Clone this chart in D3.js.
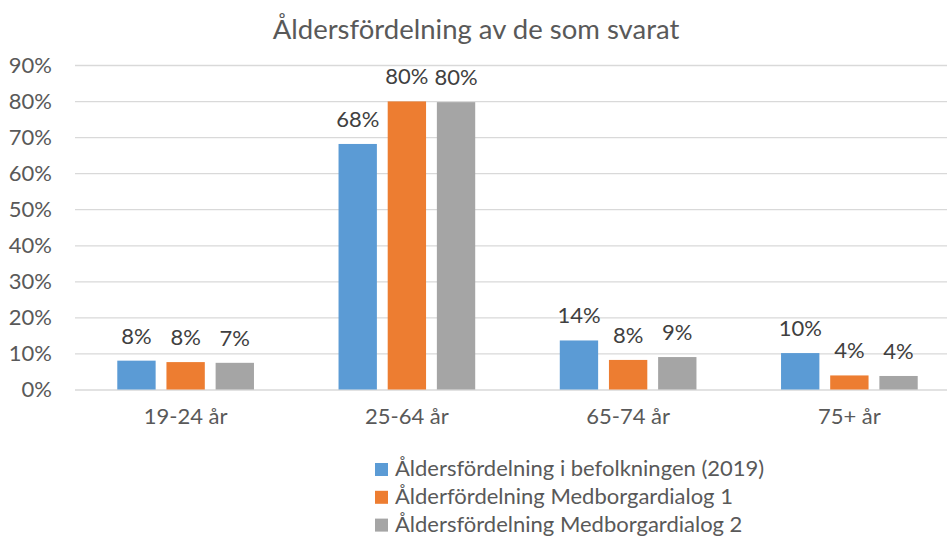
<!DOCTYPE html>
<html>
<head>
<meta charset="utf-8">
<script src="https://cdn.jsdelivr.net/npm/d3@7"></script>
<style>
  body { margin: 0; background: #fff; }
  svg { display: block; font-family: Lato, "Open Sans", sans-serif; }
</style>
</head>
<body>
<div id="chart"></div>
<script>
const categories = ['19-24 år', '25-64 år', '65-74 år', '75+ år'];
const seriesNames = [
  'Åldersfördelning i befolkningen (2019)',
  'Ålderfördelning Medborgardialog 1',
  'Åldersfördelning Medborgardialog 2'
];
const befolkning = [0.080, 0.681, 0.136, 0.101];
const dialog1 = [0.076, 0.799, 0.082, 0.039];
const dialog2 = [0.074, 0.797, 0.090, 0.0375];
const yTicks = [0, 0.1, 0.2, 0.3, 0.4, 0.5, 0.6, 0.7, 0.8, 0.9];
const colors = ['#5B9BD5', '#ED7D31', '#A5A5A5'];

const width = 947;
const height = 537;
const textColor = '#595959';
const fontFam = 'Lato, "Open Sans", sans-serif';

const series = [befolkning, dialog1, dialog2];

const svg = d3.select('#chart')
  .append('svg')
  .attr('width', width)
  .attr('height', height);

// title
svg.append('text')
  .attr('x', 476)
  .attr('y', 39)
  .attr('text-anchor', 'middle')
  .attr('font-size', 27.5)
  .attr('fill', textColor)
  .text('Åldersfördelning av de som svarat');

const x0 = d3.scaleBand()
  .domain(categories)
  .range([75, 960])
  .padding(0);

const x1 = d3.scaleBand()
  .domain(d3.range(series.length))
  .range([0, x0.bandwidth()])
  .paddingInner(0.22)
  .paddingOuter(0.86);

const y = d3.scaleLinear()
  .domain([0, 0.9])
  .range([389.5, 65]);

// gridlines + y labels
const yAxis = d3.axisLeft(y)
  .tickValues(yTicks)
  .tickSize(-(960 - 75))
  .tickPadding(23)
  .tickFormat(d3.format('.0%'));

const gy = svg.append('g')
  .attr('transform', 'translate(75,0)')
  .call(yAxis);
gy.select('.domain').remove();
gy.selectAll('.tick line')
  .attr('stroke', '#D9D9D9')
  .attr('stroke-width', 1.3);
gy.selectAll('.tick text')
  .attr('fill', textColor)
  .attr('font-size', 22)
  .attr('font-family', fontFam);

// bars
const groups = svg.selectAll('g.cat')
  .data(categories)
  .enter()
  .append('g')
  .attr('class', 'cat')
  .attr('transform', d => `translate(${x0(d)},0)`);

groups.selectAll('rect')
  .data((d, i) => series.map((s, j) => ({ s: j, v: s[i] })))
  .enter()
  .append('rect')
  .attr('x', d => x1(d.s))
  .attr('y', d => y(d.v))
  .attr('width', x1.bandwidth())
  .attr('height', d => y(0) - y(d.v))
  .attr('fill', d => colors[d.s]);

groups.selectAll('text.lbl')
  .data((d, i) => series.map((s, j) => ({ s: j, v: s[i] })))
  .enter()
  .append('text')
  .attr('class', 'lbl')
  .attr('x', d => x1(d.s) + x1.bandwidth() / 2)
  .attr('y', d => y(d.v) - 17)
  .attr('text-anchor', 'middle')
  .attr('font-size', 22)
  .attr('fill', '#404040')
  .text(d => d3.format('.0%')(d.v));

// x axis labels
const xAxis = d3.axisBottom(x0).tickSize(0).tickPadding(19);
const gx = svg.append('g')
  .attr('transform', `translate(0,${y(0)})`)
  .call(xAxis);
gx.select('.domain').remove();
gx.selectAll('.tick text')
  .attr('fill', textColor)
  .attr('font-size', 22)
  .attr('font-family', fontFam);

// legend
const legend = svg.append('g')
  .attr('transform', 'translate(375,463)');

const items = legend.selectAll('g')
  .data(seriesNames)
  .enter()
  .append('g')
  .attr('transform', (d, i) => `translate(0,${i * 27.8})`);

items.append('rect')
  .attr('width', 13)
  .attr('height', 13)
  .attr('fill', (d, i) => colors[i]);

items.append('text')
  .attr('x', 20)
  .attr('y', 13)
  .attr('font-size', 22)
  .attr('fill', textColor)
  .text(d => d);
</script>
</body>
</html>
